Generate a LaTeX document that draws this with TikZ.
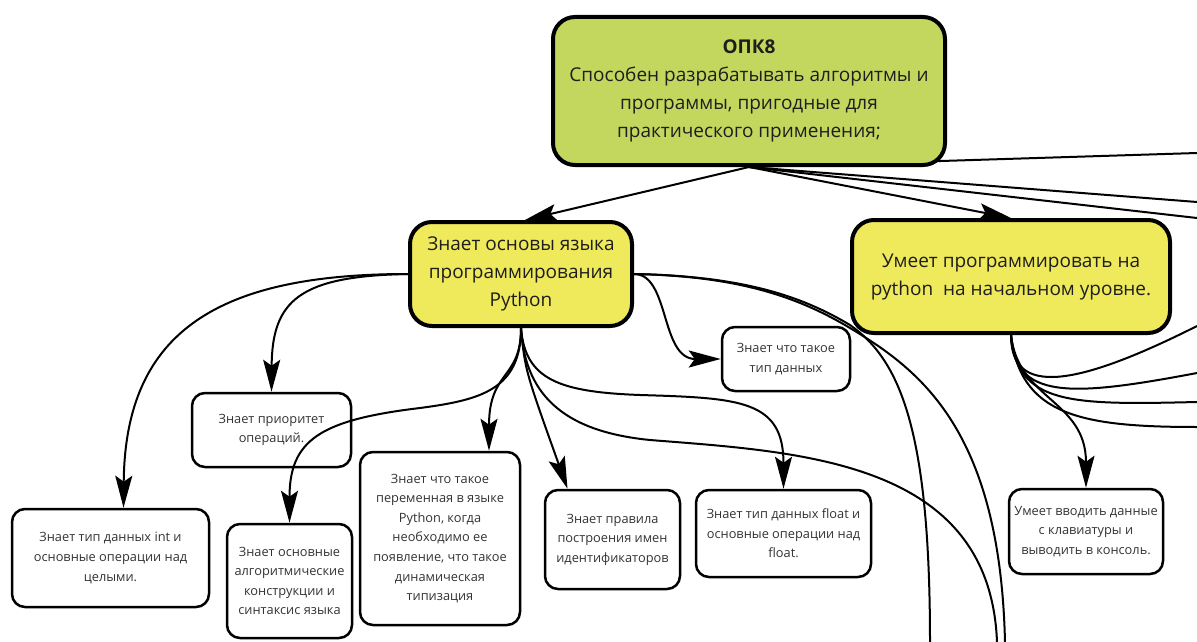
\documentclass[tikz,border=0pt]{standalone}
\usepackage{fontspec}
\setmainfont{Open Sans}
\usetikzlibrary{arrows.meta}
\definecolor{opkfill}{HTML}{C3D75E}
\definecolor{yelfill}{HTML}{EFE95C}
\definecolor{bigtxt}{HTML}{1E1E1E}
\definecolor{smalltxt}{HTML}{333333}
\pgfdeclarelayer{bg}
\pgfsetlayers{bg,main}
\begin{document}
\begin{tikzpicture}[x=1pt,y=-1pt,
  bigbox/.style={draw, line width=4pt, rounded corners=22pt, align=center, inner sep=0pt,
    font=\fontsize{19}{28}\selectfont, text=bigtxt},
  smallbox/.style={draw, line width=2.5pt, rounded corners=13pt, fill=white, align=center, inner sep=0pt,
    font=\fontsize{12.8}{19.6}\selectfont, text=smalltxt},
  conn/.style={line width=2pt},
  arr/.style={conn, -{Stealth[length=32pt,width=17pt,inset=6pt]}}
]
\useasboundingbox (0,0) rectangle (1197,642);

% main nodes
\node[bigbox, fill=opkfill, minimum width=392pt, minimum height=148pt] (opk) at (749,91)
  {\textbf{ОПК8}\\Способен разрабатывать алгоритмы и\\программы, пригодные для\\практического применения;};
\node[bigbox, fill=yelfill, minimum width=222pt, minimum height=104pt] (py) at (521,274)
  {Знает основы языка\\программирования\\Python};
\node[bigbox, fill=yelfill, minimum width=318pt, minimum height=113pt] (um) at (1011,276.5)
  {Умеет программировать на\\python\ \ на начальном уровне.};

% small nodes
\node[smallbox, minimum width=128pt, minimum height=64pt] (tip) at (786,359)
  {Знает что такое\\тип данных};
\node[smallbox, minimum width=159pt, minimum height=74pt] (prio) at (271.5,430)
  {Знает приоритет\\операций.};
\node[smallbox, minimum width=197pt, minimum height=98pt] (int) at (110.5,558)
  {Знает тип данных int и\\основные операции над\\целыми.};
\node[smallbox, minimum width=125pt, minimum height=114pt] (alg) at (289.5,581)
  {Знает основные\\алгоритмические\\конструкции и\\синтаксис языка};
\node[smallbox, minimum width=160pt, minimum height=173pt] (var) at (440,538.5)
  {Знает что такое\\переменная в языке\\Python, когда\\необходимо ее\\появление, что такое\\динамическая\\типизация};
\node[smallbox, minimum width=135pt, minimum height=99pt] (ident) at (612.5,539.5)
  {Знает правила\\построения имен\\идентификаторов};
\node[smallbox, minimum width=175pt, minimum height=87pt] (float) at (783.5,533.5)
  {Знает тип данных float и\\основные операции над\\float.};
\node[smallbox, minimum width=154pt, minimum height=85pt] (vvod) at (1086,531.5)
  {Умеет вводить данные\\с клавиатуры и\\выводить в консоль.};

% free ends
\coordinate (e1) at (1197,153);
\coordinate (e2) at (1197,202);
\coordinate (e3) at (1197,218);
\coordinate (f1) at (1197,326);
\coordinate (f2) at (1197,373);
\coordinate (f3) at (1197,402);
\coordinate (f4) at (1197,427);
\coordinate (g1) at (930,642);
\coordinate (g2) at (997,642);
\coordinate (g3) at (1005,642);

\begin{pgfonlayer}{bg}
% from OPK8
\draw[arr] (opk.south) -- ([xshift=4pt]py.north);
\draw[arr] (opk.south) -- (um.north);
\draw[conn] (opk.south) -- (e1);
\draw[conn] (opk.south) -- (e2);
\draw[conn] (opk.south) -- (e3);

% from Python box, left
\draw[arr] (py.west) .. controls (220,274) and (125,330) .. ([xshift=13pt]int.north);
\draw[arr] (py.west) .. controls (300,276) and (272,300) .. (prio.north);

% from Python box, bottom
\draw[arr] (py.south) .. controls (521,380) and (489,370) .. ([xshift=49pt]var.north);
\draw[arr] (py.south) .. controls (525,370) .. ([xshift=-45pt]ident.north);
\draw[arr] (py.south) .. controls (525,380) and (560,392) .. (640,395)
  .. controls (740,398) and (783.5,400) .. (float.north);
\draw[conn] (py.south) .. controls (525,400) and (570,432) .. (650,440)
  .. controls (800,452) and (990,460) .. (g2);

% from Python box, right
\draw[arr] (py.east) .. controls (670,274) and (660,359) .. (tip.west);
\draw[conn] (py.east) .. controls (740,276) and (800,295) .. (850,325)
  .. controls (900,360) and (930,430) .. (g1);
\draw[conn] (py.east) .. controls (740,276) and (800,298) .. (850,328)
  .. controls (920,370) and (1000,430) .. (g3);

% from Umeet box
\draw[conn] (um.south) .. controls (1011,390) and (1060,395) .. (f1);
\draw[conn] (um.south) .. controls (1014,400) and (1070,397) .. (f2);
\draw[conn] (um.south) .. controls (1017,405) and (1070,405) .. (f3);
\draw[conn] (um.south) .. controls (1020,415) and (1080,427) .. (f4);
\draw[arr] (um.south) .. controls (1018,400) and (1086,400) .. (vvod.north);
\end{pgfonlayer}

% this connector crosses over the priority box
\draw[arr] (py.south) .. controls (521,390) and (480,400) .. (420,408)
  .. controls (320,420) and (289.5,440) .. (alg.north);
\end{tikzpicture}
\end{document}
